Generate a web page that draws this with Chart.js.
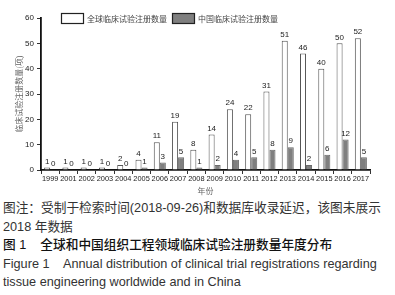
<!DOCTYPE html>
<html lang="zh">
<head>
  <meta charset="UTF-8">
  <title>全球和中国组织工程领域临床试验注册数量年度分布</title>
  <script src="https://cdn.jsdelivr.net/npm/chart.js@4.4.0/dist/chart.umd.min.js"></script>
  <style>
    body { margin: 0; background: #fff; width: 395px; height: 295px; overflow: hidden; }
    #wrap { position: relative; width: 395px; height: 196px; }
    .cap { margin-top: 3px; padding-left: 3px; font-family: "Liberation Sans", "Noto Sans CJK SC", sans-serif;
           font-size: 12.7px; line-height: 18.6px; color: #333; }
    .cap div { white-space: pre; }
    .cap .t { color: #111; font-weight: 500; }
  </style>
</head>
<body>
  <div id="wrap"><canvas id="barChart"></canvas></div>
  <div class="cap">
    <div>图注：受制于检索时间(2018-09-26)和数据库收录延迟，该图未展示</div>
    <div>2018 年数据</div>
    <div class="t">图 1    全球和中国组织工程领域临床试验注册数量年度分布</div>
    <div>Figure 1    Annual distribution of clinical trial registrations regarding</div>
    <div>tissue engineering worldwide and in China</div>
  </div>

  <script>
    const years = ['1999', '2001', '2002', '2003', '2004', '2005', '2006', '2007', '2008',
                   '2009', '2010', '2011', '2012', '2013', '2014', '2015', '2016', '2017'];
    const globalCounts = [1, 1, 1, 1, 2, 4, 11, 19, 8, 14, 24, 22, 31, 51, 46, 40, 50, 52];
    const chinaCounts = [0, 0, 0, 0, 0, 1, 3, 5, 1, 2, 4, 5, 8, 9, 2, 6, 12, 5];
    const seriesNames = ['全球临床试验注册数量', '中国临床试验注册数量'];
    const yTicks = [0, 10, 20, 30, 40, 50, 60];

    const cjk = '"Noto Sans CJK SC", sans-serif';
    const latin = '"Liberation Sans", Arial, sans-serif';

    // value labels above each bar
    const valueLabels = {
      id: 'valueLabels',
      afterDatasetsDraw(chart) {
        const ctx = chart.ctx;
        ctx.save();
        ctx.font = '8px ' + latin;
        ctx.fillStyle = '#222';
        ctx.textAlign = 'center';
        ctx.textBaseline = 'bottom';
        chart.data.datasets.forEach((ds, i) => {
          chart.getDatasetMeta(i).data.forEach((bar, j) => {
            ctx.fillText(ds.data[j], bar.x, bar.y - 2);
          });
        });
        ctx.restore();
      }
    };

    // small legend at the top, like the original
    const topLegend = {
      id: 'topLegend',
      afterDraw(chart) {
        const ctx = chart.ctx;
        const items = [
          { x: 61, fill: '#fff', stroke: '#222' },
          { x: 172, fill: '#7f7f7f', stroke: '#222' }
        ];
        ctx.save();
        ctx.font = '8px ' + cjk;
        ctx.textBaseline = 'middle';
        items.forEach((it, i) => {
          ctx.fillStyle = it.fill;
          ctx.strokeStyle = it.stroke;
          ctx.lineWidth = 1.2;
          ctx.fillRect(it.x, 13, 22, 10);
          ctx.strokeRect(it.x + 0.5, 13.5, 22, 10);
          ctx.fillStyle = '#444';
          ctx.fillText(seriesNames[i], it.x + 26, 18.5);
        });
        ctx.restore();
      }
    };

    new Chart(document.getElementById('barChart'), {
      type: 'bar',
      data: {
        labels: years,
        datasets: [
          {
            label: seriesNames[0],
            data: globalCounts,
            backgroundColor: '#fff',
            borderColor: '#555',
            borderWidth: 1,
            categoryPercentage: 0.66,
            barPercentage: 1.0
          },
          {
            label: seriesNames[1],
            data: chinaCounts,
            backgroundColor: '#7f7f7f',
            borderColor: '#6a6a6a',
            borderWidth: 1,
            categoryPercentage: 0.66,
            barPercentage: 1.0
          }
        ]
      },
      options: {
        responsive: true,
        maintainAspectRatio: false,
        animation: false,
        layout: { padding: { top: 18, right: 25, left: 0, bottom: 0 } },
        plugins: {
          legend: { display: false },
          tooltip: { enabled: false }
        },
        scales: {
          x: {
            afterFit: (s) => { s.height = 26; },
            grid: { display: true, drawOnChartArea: false, tickLength: 4, color: '#333', offset: true },
            border: { color: '#111', width: 1.8 },
            ticks: { font: { size: 7.4, family: latin }, color: '#222', padding: 1, maxRotation: 0, autoSkip: false },
            title: { display: true, text: '年份', font: { size: 8, family: cjk }, color: '#666', padding: { top: 0, bottom: 0 } }
          },
          y: {
            min: 0,
            max: 60,
            afterFit: (s) => { s.width = 41; },
            afterBuildTicks: (s) => { s.ticks = yTicks.map(v => ({ value: v })); },
            grid: { display: true, drawOnChartArea: false, tickLength: 4, color: '#333' },
            border: { color: '#111', width: 1.8 },
            ticks: { font: { size: 8, family: latin }, color: '#222', padding: 3 },
            title: { display: true, text: '临床试验注册数量(项)', font: { size: 8, family: cjk }, color: '#666', padding: { top: 14, bottom: 0 } }
          }
        }
      },
      plugins: [valueLabels, topLegend]
    });
  </script>
</body>
</html>
